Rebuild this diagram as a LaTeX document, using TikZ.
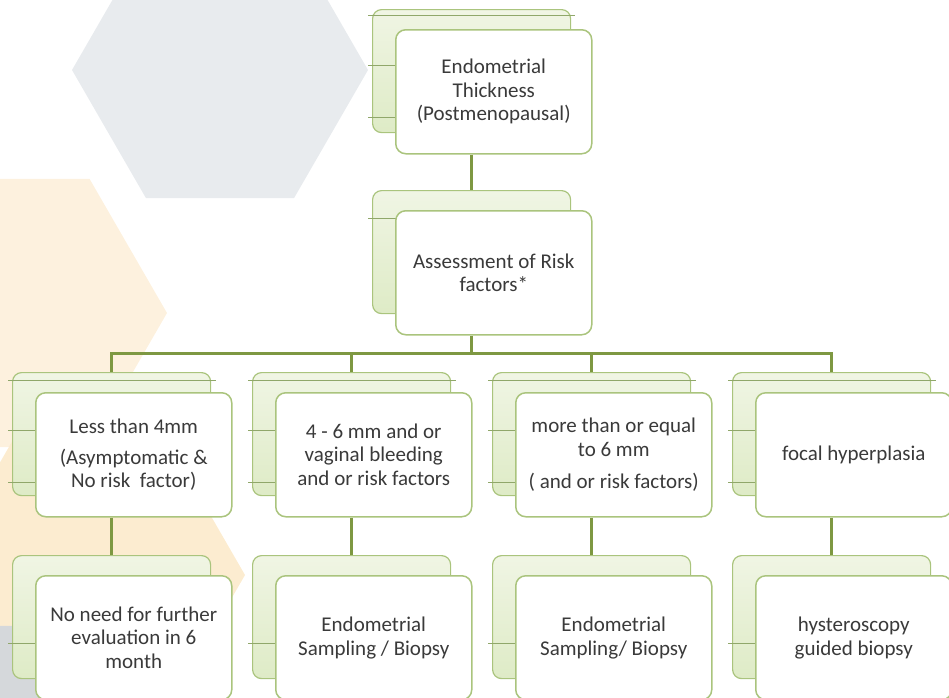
\documentclass[tikz,border=0pt]{standalone}
\usepackage{fontspec}
\setmainfont{Carlito}
\usetikzlibrary{positioning}
\definecolor{leaf}{RGB}{170,196,125}
\definecolor{stem}{RGB}{126,152,66}
\definecolor{pale}{RGB}{240,245,228}
\definecolor{paler}{RGB}{222,235,198}
\definecolor{ink}{RGB}{58,58,58}
\definecolor{hexgrey}{RGB}{232,235,238}
\definecolor{hexpeach}{RGB}{253,241,222}
\definecolor{hexsand}{RGB}{252,236,208}

\begin{document}
\begin{tikzpicture}[x=1pt, y=1pt,
    back/.style={rectangle, rounded corners=9pt, draw=leaf, line width=1.2pt,
                 top color=pale, bottom color=paler, anchor=north west,
                 minimum width=198pt, minimum height=123pt, inner sep=0pt},
    card/.style={rectangle, rounded corners=10pt, draw=leaf, line width=1.5pt,
                 fill=white, text=ink, align=flush center, text width=190pt,
                 minimum width=196pt, minimum height=124pt, inner sep=0pt,
                 font=\fontsize{21}{23.5}\selectfont},
    rule/.style={draw=leaf!85!black, line width=0.9pt},
    link/.style={draw=stem, line width=3pt}
]
\useasboundingbox (0,0) rectangle (949,-697);

% hexagons in the background
\fill[hexgrey] (220,-70) +(0:148) -- +(60:148) -- +(120:148) -- +(180:148)
    -- +(240:148) -- +(300:148) -- cycle;
\fill[hexpeach] (12,-313) +(0:155) -- +(60:155) -- +(120:155) -- +(180:155)
    -- +(240:155) -- +(300:155) -- cycle;
\fill[hexsand] (90,-575) +(0:155) -- +(60:155) -- +(120:155) -- +(180:155)
    -- +(240:155) -- +(300:155) -- cycle;
\fill[hexgrey!92!black] (-60,-760) +(0:155) -- +(60:155) -- +(120:155) -- +(180:155)
    -- +(240:155) -- +(300:155) -- cycle;

% top level
\node[back] (thk-back) at (372,-9) {};
\draw[rule] ([shift={(-4pt,-6pt)}]thk-back.north west) -- ([shift={(4pt,-6pt)}]thk-back.north east);
\draw[rule] ([shift={(-4pt,-56pt)}]thk-back.north west) -- ([yshift=-56pt]thk-back.north east);
\draw[rule] ([shift={(-4pt,-108pt)}]thk-back.north west) -- ([yshift=-108pt]thk-back.north east);
\node[card, below right=20pt and 23pt of thk-back.north west] (thk)
    {Endometrial\\Thickness\\(Postmenopausal)};

\node[back] (risk-back) at (372,-190) {};
\draw[rule] ([shift={(-4pt,-28pt)}]risk-back.north west) -- ([yshift=-28pt]risk-back.north east);
\node[card, below right=20pt and 23pt of risk-back.north west] (risk)
    {Assessment of Risk\\factors*};

% thickness groups
\node[back] (lt4-back) at (12,-372) {};
\draw[rule] ([shift={(-4pt,-8pt)}]lt4-back.north west) -- ([shift={(5pt,-8pt)}]lt4-back.north east);
\draw[rule] ([shift={(-4pt,-58pt)}]lt4-back.north west) -- ([yshift=-58pt]lt4-back.north east);
\draw[rule] ([shift={(-4pt,-110pt)}]lt4-back.north west) -- ([yshift=-110pt]lt4-back.north east);
\node[card, below right=20pt and 23pt of lt4-back.north west] (lt4)
    {Less than 4mm\\[7pt](Asymptomatic \&\\No risk~ factor)};

\node[back] (mid-back) at (252,-372) {};
\draw[rule] ([shift={(-4pt,-8pt)}]mid-back.north west) -- ([shift={(5pt,-8pt)}]mid-back.north east);
\draw[rule] ([shift={(-4pt,-58pt)}]mid-back.north west) -- ([yshift=-58pt]mid-back.north east);
\draw[rule] ([shift={(-4pt,-110pt)}]mid-back.north west) -- ([yshift=-110pt]mid-back.north east);
\node[card, below right=20pt and 23pt of mid-back.north west] (mid)
    {4 - 6 mm and or\\vaginal bleeding\\and or risk factors};

\node[back] (ge6-back) at (492,-372) {};
\draw[rule] ([shift={(-4pt,-8pt)}]ge6-back.north west) -- ([shift={(5pt,-8pt)}]ge6-back.north east);
\draw[rule] ([shift={(-4pt,-58pt)}]ge6-back.north west) -- ([yshift=-58pt]ge6-back.north east);
\draw[rule] ([shift={(-4pt,-110pt)}]ge6-back.north west) -- ([yshift=-110pt]ge6-back.north east);
\node[card, below right=20pt and 23pt of ge6-back.north west] (ge6)
    {more than or equal\\to 6 mm\\[9pt]( and or risk factors)};

\node[back] (focal-back) at (732,-372) {};
\draw[rule] ([shift={(-4pt,-8pt)}]focal-back.north west) -- ([shift={(5pt,-8pt)}]focal-back.north east);
\draw[rule] ([shift={(-4pt,-58pt)}]focal-back.north west) -- ([yshift=-58pt]focal-back.north east);
\draw[rule] ([shift={(-4pt,-110pt)}]focal-back.north west) -- ([yshift=-110pt]focal-back.north east);
\node[card, below right=20pt and 23pt of focal-back.north west] (focal)
    {focal hyperplasia};

% what to do next
\node[back] (wait-back) at (12,-555) {};
\draw[rule] ([shift={(-4pt,-88pt)}]wait-back.north west) -- ([yshift=-88pt]wait-back.north east);
\node[card, below right=20pt and 23pt of wait-back.north west] (wait)
    {No need for further\\evaluation in 6\\month};

\node[back] (samp-back) at (252,-555) {};
\draw[rule] ([shift={(-4pt,-88pt)}]samp-back.north west) -- ([yshift=-88pt]samp-back.north east);
\node[card, below right=20pt and 23pt of samp-back.north west] (samp)
    {Endometrial\\Sampling / Biopsy};

\node[back] (biop-back) at (492,-555) {};
\draw[rule] ([shift={(-4pt,-88pt)}]biop-back.north west) -- ([yshift=-88pt]biop-back.north east);
\node[card, below right=20pt and 23pt of biop-back.north west] (biop)
    {Endometrial\\Sampling/ Biopsy};

\node[back] (hyst-back) at (732,-555) {};
\draw[rule] ([shift={(-4pt,-88pt)}]hyst-back.north west) -- ([yshift=-88pt]hyst-back.north east);
\node[card, below right=20pt and 23pt of hyst-back.north west] (hyst)
    {hysteroscopy\\guided biopsy};

% connectors
\coordinate (bus) at ([yshift=-18pt]risk.south -| risk-back.south);
\draw[link] (thk-back.south |- thk.south) -- (risk-back.north);
\draw[link] (risk-back.south |- risk.south) -- (bus) -| (lt4-back.north);
\draw[link] (bus) -| (mid-back.north);
\draw[link] (bus) -| (ge6-back.north);
\draw[link] (bus) -| (focal-back.north);
\draw[link] (lt4-back.south |- lt4.south) -- (wait-back.north);
\draw[link] (mid-back.south |- mid.south) -- (samp-back.north);
\draw[link] (ge6-back.south |- ge6.south) -- (biop-back.north);
\draw[link] (focal-back.south |- focal.south) -- (hyst-back.north);
\end{tikzpicture}
\end{document}
